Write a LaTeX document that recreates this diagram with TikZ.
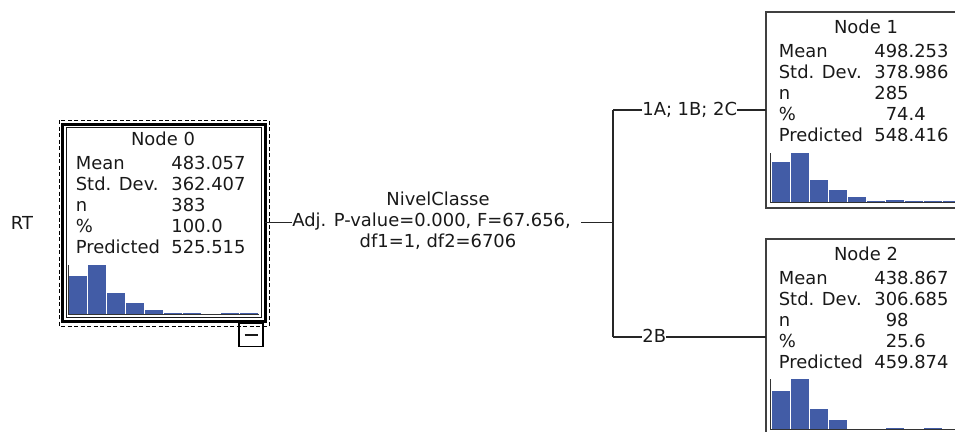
\documentclass[tikz,border=0pt]{standalone}
\usepackage{fontspec}
\setmainfont{DejaVu Sans}
\usepackage{xcolor}
\usepackage{tikz}
\definecolor{barblue}{RGB}{66,92,166}

\begin{document}
\begin{tikzpicture}[
  x=0.2mm, y=-0.2mm,
  font=\fontsize{10.2}{12}\selectfont,
  treenode/.style={draw=black!75, line width=0.35mm, minimum width=40.4mm, minimum height=39.2mm, inner sep=0pt, outer sep=0pt},
  rootnode/.style={treenode, draw=black, line width=0.6mm, minimum height=39.4mm},
  innerrule/.style={line width=0.25mm, black!90},
  selbox/.style={line width=0.2mm, dash pattern=on 0.8mm off 0.5mm},
  togglebox/.style={draw, line width=0.25mm, minimum width=4.8mm, minimum height=4.6mm, inner sep=0pt},
  boxtitle/.style={anchor=base, inner sep=0pt, text=black!90},
  rowlab/.style={anchor=base west, inner sep=0pt, text=black!90},
  rowval/.style={anchor=base west, inner sep=0pt, text=black!90},
  histaxis/.style={line width=0.2mm, black!80},
  conn/.style={line width=0.25mm, black!85},
  edgelab/.style={inner sep=0pt, text=black!90},
]
\useasboundingbox (0,0) rectangle (955,432);

\node[edgelab] (target) at (22,223) {RT};

% ============ ROOT: Node 0 ============
\node[rootnode] (n0) at (164,222.5) {};
\draw[selbox] (59,120) rectangle (269,326);
\draw[innerrule] ([shift={(0.75mm,-0.75mm)}]n0.north west) rectangle ([shift={(-0.75mm,0.75mm)}]n0.south east);
\node[togglebox] (toggle) at (251,335) {};
\draw[innerrule, line width=0.3mm] ([xshift=-1.3mm]toggle.center) -- ([xshift=1.3mm]toggle.center);

\begin{scope}[shift={(63,124)}]
\node[boxtitle] (t0) at (100,21.5) {Node 0};
\foreach \lab/\val [count=\i] in {Mean/483.057, Std. Dev./362.407, n/383, \%/100.0, Predicted/525.515}{
  \node[rowlab] at (12.5,24+21*\i) {\lab};
  \node[rowval] at (108,24+21*\i) {\val};
}
\foreach \h [count=\i] in {38,49,21,11,4,1.5,1.5,0,1.5,1.5}
  \fill[barblue] ({6+19*(\i-1)},190) rectangle ++(18,-\h);
\draw[histaxis] (5,141) -- (5,190.5) -- (196,190.5);
\end{scope}

% ============ SPLIT ============
\node[edgelab, anchor=base] (var) at (438,205.5) {NivelClasse};
\node[edgelab, anchor=base west] (stat) at (292,226) {Adj. P-value=0.000, F=67.656,};
\node[edgelab, anchor=base] (df) at (438,247.5) {df1=1, df2=6706};
\coordinate (jmid) at (613,222.5);
\coordinate (jtop) at (613,110);
\coordinate (jbot) at (613,337);

\draw[conn] (n0.east) -- (n0.east -| stat.west);
\draw[conn, shorten <=2mm] (stat.east |- jmid) -- (jmid);
\draw[conn] (jtop) -- (jbot);

% ============ CHILDREN ============
\node[treenode] (n1) at (867,110) {};
\node[treenode] (n2) at (867,337) {};

\node[edgelab, anchor=base west] (lab1) at (642,115) {1A; 1B; 2C};
\node[edgelab, anchor=base west] (lab2) at (642,342) {2B};
\draw[conn] (jtop) -- (lab1.west |- jtop);
\draw[conn] (lab1.east |- jtop) -- (n1.west);
\draw[conn] (jbot) -- (lab2.west |- jbot);
\draw[conn] (lab2.east |- jbot) -- (n2.west);

\begin{scope}[shift={(766,12)}]
\node[boxtitle] (t1) at (100,21) {Node 1};
\foreach \lab/\val [count=\i] in {Mean/498.253, Std. Dev./378.986, n/285, \%/\phantom{0}74.4, Predicted/548.416}{
  \node[rowlab] at (12.5,24+21*\i) {\lab};
  \node[rowval] at (108,24+21*\i) {\val};
}
\foreach \h [count=\i] in {40,49,22,12,5,1.5,2.5,1.5,1.5,1.5}
  \fill[barblue] ({5.5+19*(\i-1)},190) rectangle ++(18,-\h);
\draw[histaxis] (4.5,141) -- (4.5,190.5) -- (200,190.5);
\end{scope}

\begin{scope}[shift={(766,239)}]
\node[boxtitle] (t2) at (100,21) {Node 2};
\foreach \lab/\val [count=\i] in {Mean/438.867, Std. Dev./306.685, n/\phantom{0}98, \%/\phantom{0}25.6, Predicted/459.874}{
  \node[rowlab] at (12.5,24+21*\i) {\lab};
  \node[rowval] at (108,24+21*\i) {\val};
}
\foreach \h [count=\i] in {38,50,20,9,0,0,1.5,0,1.5,0}
  \fill[barblue] ({5.5+19*(\i-1)},190) rectangle ++(18,-\h);
\draw[histaxis] (4.5,140) -- (4.5,190.5) -- (200,190.5);
\end{scope}

\end{tikzpicture}
\end{document}
